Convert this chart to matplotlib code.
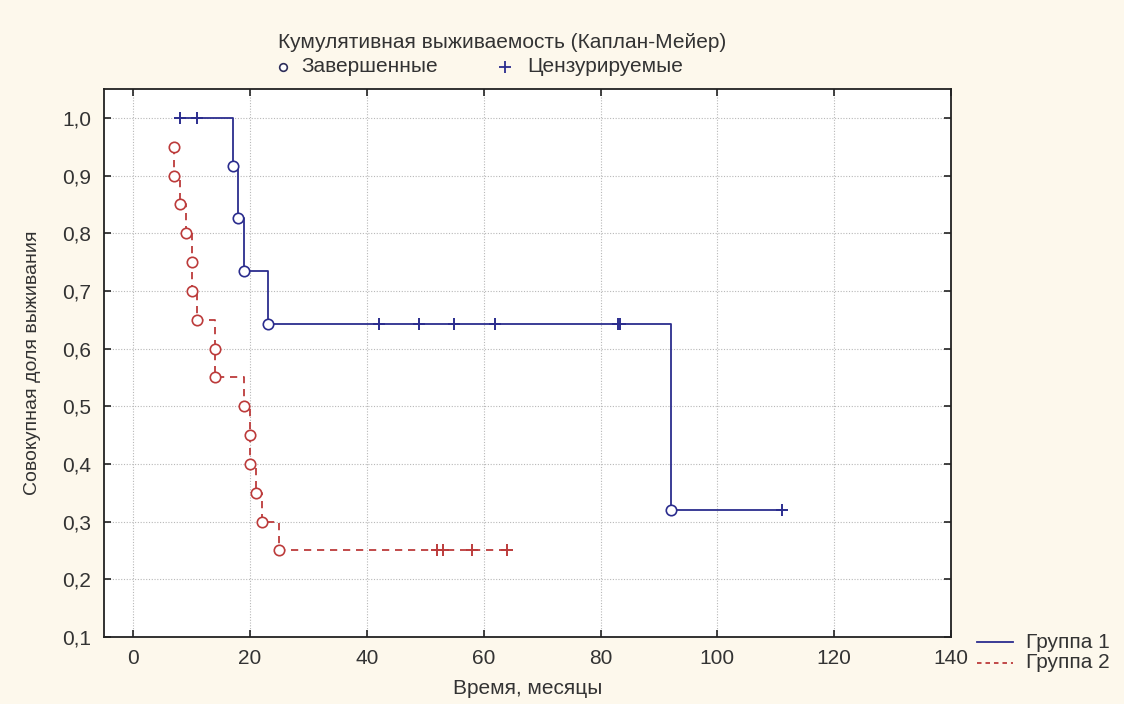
import matplotlib
matplotlib.use("Agg")
import matplotlib.pyplot as plt
from matplotlib.lines import Line2D

plt.rcParams["font.family"] = ["Liberation Sans", "DejaVu Sans"]

# Group 1: event times and survival after each event, censored times
g1_event_t = [17, 18, 19, 23, 92]
g1_surv = [0.917, 0.826, 0.734, 0.642, 0.321]
g1_cens_t = [8, 11, 42, 49, 55, 62, 83, 83.4, 111]

# Group 2
g2_event_t = [7, 7, 8, 9, 10, 10, 11, 14, 14, 19, 20, 20, 21, 22, 25]
g2_surv = [0.95, 0.90, 0.85, 0.80, 0.75, 0.70, 0.65, 0.60, 0.55,
           0.50, 0.45, 0.40, 0.35, 0.30, 0.25]
g2_cens_t = [52, 53, 58, 64]

x_ticks = [0, 20, 40, 60, 80, 100, 120, 140]
y_ticks = [0.1, 0.2, 0.3, 0.4, 0.5, 0.6, 0.7, 0.8, 0.9, 1.0]
y_tick_labels = ["0,1", "0,2", "0,3", "0,4", "0,5", "0,6", "0,7", "0,8", "0,9", "1,0"]

group_names = ["Группа 1", "Группа 2"]
title = "Кумулятивная выживаемость (Каплан-Мейер)"
marker_names = ["Завершенные", "Цензурируемые"]
x_label = "Время, месяцы"
y_label = "Совокупная доля выживания"

BLUE = "#2b2d8e"
RED = "#bc3b3b"
TEXT = "#333333"
BG = "#fdf8ec"
FS = 15

W, H = 1124, 704


def fx(px):
    return px / W


def fy(py):
    return 1 - py / H


def level_at(t, ev_t, surv):
    s = 1.0
    for et, es in zip(ev_t, surv):
        if et <= t:
            s = es
    return s


def km_path(ev_t, surv, cens_t):
    start = min(list(ev_t) + list(cens_t))
    end = max(list(ev_t) + list(cens_t))
    xs, ys = [start], [1.0]
    for t, s in zip(ev_t, surv):
        xs += [t, t]
        ys += [ys[-1], s]
    xs.append(end)
    ys.append(ys[-1])
    # curve starts at the first observation; skip the drop if that is an event
    if xs[1] == xs[0]:
        xs, ys = xs[2:], ys[2:]
    return xs, ys


fig = plt.figure(figsize=(W / 100, H / 100), dpi=100, facecolor=BG)
ax = fig.add_axes([fx(104), fy(637), (951 - 104) / W, (637 - 89) / H])
ax.set_facecolor("white")

groups = [
    (g1_event_t, g1_surv, g1_cens_t, BLUE, "-"),
    (g2_event_t, g2_surv, g2_cens_t, RED, (0, (4, 3.2))),
]
for ev_t, surv, cens_t, col, ls in groups:
    xs, ys = km_path(ev_t, surv, cens_t)
    ax.plot(xs, ys, color=col, linestyle=ls, linewidth=1.3, zorder=3)
    ax.plot(ev_t, surv, linestyle="none", marker="o", markersize=7.5,
            markerfacecolor="white", markeredgecolor=col, markeredgewidth=1.2, zorder=4)
    cs = [level_at(c, ev_t, surv) for c in cens_t]
    ax.plot(cens_t, cs, linestyle="none", marker="+", markersize=9,
            markeredgecolor=col, markeredgewidth=1.4, zorder=4)

ax.set_xlim(-5, 140)
ax.set_ylim(0.1, 1.05)
ax.set_xticks(x_ticks)
ax.set_yticks(y_ticks)
ax.set_yticklabels(y_tick_labels)
ax.tick_params(direction="in", length=5, width=1.2, colors="#222222",
               labelcolor=TEXT, labelsize=FS, top=True, right=True, pad=9)
ax.grid(True, color="#b8b8b8", linestyle=(0, (1, 1.5)), linewidth=0.8)
for sp in ax.spines.values():
    sp.set_linewidth(1.3)
    sp.set_color("#222222")

ax.set_xlabel(x_label, fontsize=FS, color=TEXT)
ax.xaxis.set_label_coords(0.5, (637 - 679) / 548)
ax.set_ylabel(y_label, fontsize=FS - 1, color=TEXT)
ax.yaxis.set_label_coords((33 - 104) / 847, 0.5)
ax.yaxis.label.set_va("center")

fig.text(fx(502), fy(42), title, ha="center", va="center", fontsize=FS, color=TEXT)

# marker key under the title
fig.add_artist(Line2D([fx(283)], [fy(67)], linestyle="none", marker="o", markersize=5.5,
                      markerfacecolor="white", markeredgecolor="#2e2e5a",
                      markeredgewidth=1.2))
fig.text(fx(301), fy(67), marker_names[0], ha="left", va="center", fontsize=FS, color=TEXT)
fig.add_artist(Line2D([fx(505)], [fy(67)], linestyle="none", marker="+", markersize=8,
                      markeredgecolor=BLUE, markeredgewidth=1.3))
fig.text(fx(527), fy(67), marker_names[1], ha="left", va="center", fontsize=FS, color=TEXT)

# group key at the lower right
key_styles = [(BLUE, "-"), (RED, (0, (2.5, 2.2)))]
for i, (name, (col, ls)) in enumerate(zip(group_names, key_styles)):
    yk = 642 + 21 * i
    fig.add_artist(Line2D([fx(977), fx(1013)], [fy(yk), fy(yk)], color=col,
                          linestyle=ls, linewidth=1.3))
    fig.text(fx(1026), fy(yk), name, ha="left", va="center", fontsize=FS, color=TEXT)

fig.savefig("out.png", dpi=100, facecolor=BG)
